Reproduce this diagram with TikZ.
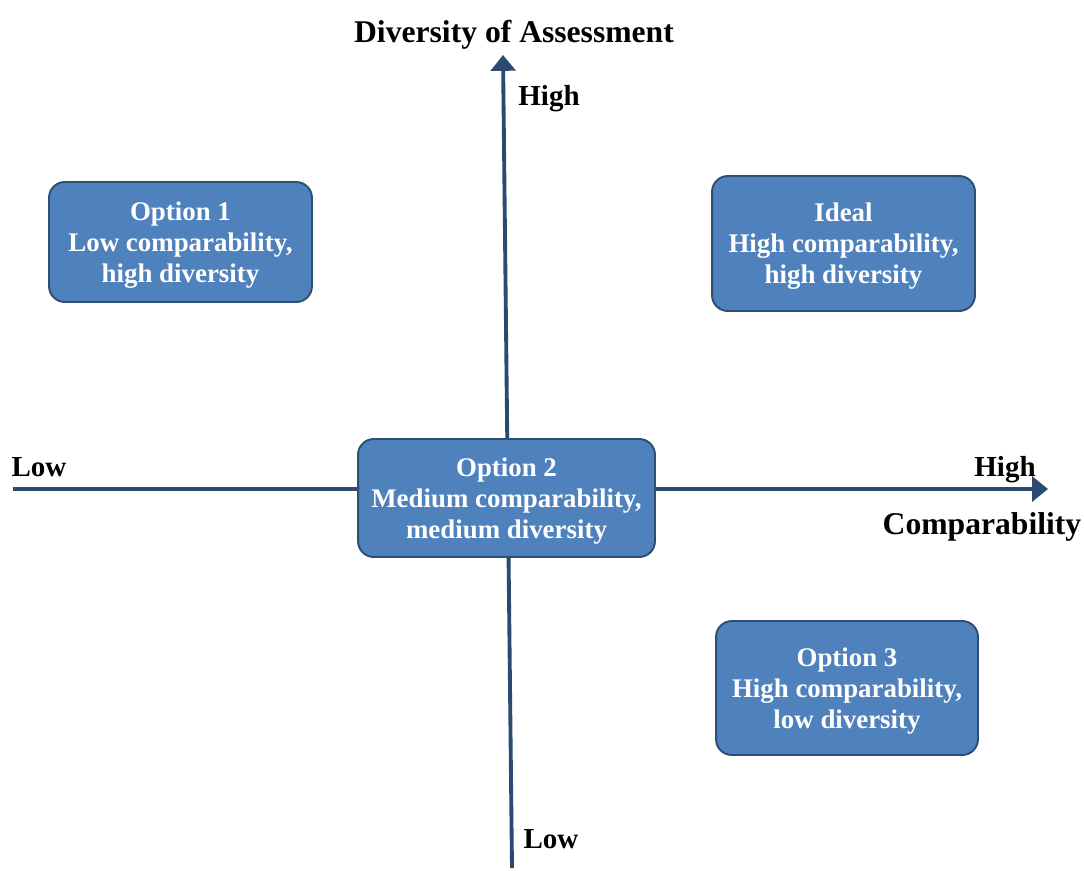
\documentclass[tikz,border=0pt]{standalone}
\usepackage{fontspec}
\setmainfont{Liberation Serif}
\usetikzlibrary{arrows.meta}
\definecolor{axisblue}{HTML}{2B4A72}
\definecolor{boxfill}{HTML}{4F81BD}
\definecolor{boxline}{HTML}{2F4E74}
\tikzset{
    axis/.style={draw=axisblue, line width=2.2pt, -{Triangle[length=9pt, width=14pt]}}, % axes with a solid tip
    option/.style={draw=boxline, line width=1.1pt, fill=boxfill, rounded corners=9pt, text=white,
        font=\fontsize{15.3}{17.6}\selectfont\bfseries, align=center, inner sep=0pt,
        text depth=0pt, yshift=-0.08cm}, % quadrant boxes
    lbl/.style={font=\fontsize{16.5}{19}\selectfont\bfseries, inner sep=0pt}, % axis end labels
    ttl/.style={font=\fontsize{18}{21}\selectfont\bfseries, inner sep=0pt} % axis names
}

\begin{document}
\begin{tikzpicture}[x=0.02cm, y=-0.02cm]
    \useasboundingbox (0,0) rectangle (1084,870);

    % axis ends
    \coordinate (xlo) at (13,489);
    \coordinate (xhi) at (1048,489);
    \coordinate (ylo) at (512,868);
    \coordinate (yhi) at (503,55);

    \draw[axis] (xlo) -- (xhi);
    \draw[axis] (ylo) -- (yhi);

    % boxes
    \node[option, minimum width=5.26cm, minimum height=2.4cm] (opt1) at (180.5,238)
        {Option 1\\Low comparability,\\high diversity};
    \node[option, minimum width=5.26cm, minimum height=2.7cm] (ideal) at (843.5,239.5)
        {Ideal\\High comparability,\\high diversity};
    \node[option, minimum width=5.94cm, minimum height=2.36cm] (opt2) at (506.5,494)
        {Option 2\\Medium comparability,\\medium diversity};
    \node[option, minimum width=5.24cm, minimum height=2.68cm] (opt3) at (847,684)
        {Option 3\\High comparability,\\low diversity};

    % labels
    \node[ttl] (ytitle) at (514,35) {Diversity of Assessment};
    \node[ttl] (xtitle) at (982,527) {Comparability};
    \node[lbl] (yhigh) at (549,99) {High};
    \node[lbl] (ylow) at (551,839) {Low};
    \node[lbl] (xlow) at (39,467) {Low};
    \node[lbl] (xhigh) at (1005,470) {High};
\end{tikzpicture}
\end{document}
